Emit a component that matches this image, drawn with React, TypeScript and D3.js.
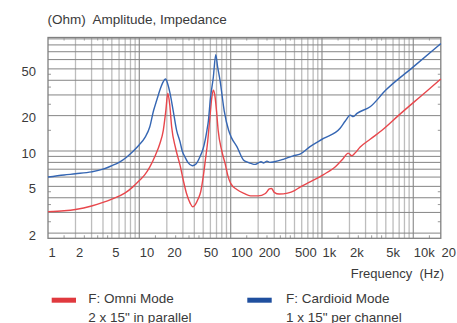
import React from "react";
import * as d3 from "d3";

const omniFreq = [1, 1.5, 2, 3, 4, 5, 7, 8.5, 10, 11.5, 13, 15, 16.8, 18.3, 19.5, 20.5, 21.5, 22.6, 25, 28, 30.5, 33, 36, 38.5, 41, 44, 47, 50, 53, 56, 59.5, 62, 64.5, 67, 70, 73, 80, 87, 93, 100, 117, 140, 165, 200, 240, 265, 280, 300, 340, 420, 500, 580, 740, 1040, 1440, 1700, 1940, 2120, 2300, 2620, 3370, 4540, 7000, 10000, 14000, 20000];
const omniOhm = [3.05, 3.1, 3.18, 3.4, 3.65, 3.9, 4.4, 4.95, 5.6, 6.3, 7.3, 9.2, 11.6, 15, 22, 31, 25, 16, 10.5, 7.5, 5.5, 4.3, 3.6, 3.35, 3.5, 3.9, 4.5, 6, 8.5, 12, 20, 28, 33, 30, 22, 15, 10, 7.8, 6.2, 5.3, 4.7, 4.35, 4.15, 4.15, 4.35, 4.75, 4.8, 4.45, 4.3, 4.38, 4.6, 4.95, 5.45, 6.3, 7.5, 8.6, 9.6, 9.1, 9.6, 10.8, 12.6, 15, 20.3, 25.8, 32.2, 41];

const cardFreq = [1, 1.5, 2, 3, 4, 5, 6, 7.3, 8.5, 10, 11.5, 13, 14.3, 15.5, 16.8, 18, 19.4, 20.5, 21.7, 23.5, 25.6, 27.9, 29.5, 31.6, 34, 38, 42, 46, 50, 55, 57, 60, 64.5, 68.7, 72, 76.5, 85, 95, 102, 117, 138, 155, 170, 185, 200, 215, 230, 250, 270, 300, 377, 484, 575, 740, 1040, 1580, 1800, 2040, 2200, 2420, 3370, 5000, 10000, 20000];
const cardOhm = [6.0, 6.25, 6.4, 6.65, 7.0, 7.5, 8.0, 8.9, 9.9, 11.3, 13, 16, 22, 27, 33, 38, 41, 37, 31, 22, 15, 12, 10, 8.9, 8.0, 7.5, 7.8, 8.9, 10.5, 15, 18, 28, 42, 66, 52, 40, 22, 15, 13, 10.9, 8.4, 8.0, 7.8, 7.7, 7.9, 8.1, 7.9, 8.2, 8.0, 8.1, 8.5, 9.1, 9.4, 10.9, 12.8, 15.6, 18, 20.2, 19.6, 20.9, 23.8, 33, 52, 82];

const xTickValues = [1, 2, 5, 10, 20, 50, 100, 200, 500, 1000, 2000, 5000, 10000, 20000];
const xTickLabels = ["1", "2", "5", "10", "20", "50", "100", "200", "500", "1k", "2k", "5k", "10k", "20"];
const yTickValues = [2, 5, 10, 20, 50];
const yTickLabels = ["2", "5", "10", "20", "50"];

const titleText = "(Ohm)  Amplitude, Impedance";
const xTitleText = "Frequency  (Hz)";
const seriesNames = ["F: Omni Mode", "F: Cardioid Mode"];
const seriesSub = ["2 x 15\" in parallel", "1 x 15\" per channel"];

const W = 457;
const H = 323;
const left = 48;
const right = 440.8;
const top = 37.5;
const bottom = 238.3;

const FONT = "'Liberation Sans', Arial, Helvetica, sans-serif";

export default function App() {
  const x = d3.scaleLog().domain([1, 20000]).range([left, right]);
  const y = d3.scaleLog().domain([1.807, 92.5]).range([bottom, top]);

  const decades = [1, 10, 100, 1000, 10000];
  const vGrid: { v: number; major: boolean }[] = [];
  decades.forEach((d) => {
    d3.range(1, 10).forEach((m) => {
      const v = d * m;
      if (v > 1 && v < 20000) vGrid.push({ v, major: m === 1 });
    });
  });
  const xMinor: number[] = [];
  decades.forEach((d) => [1.5, 2.5, 3.5, 4.5].forEach((m) => { if (d * m < 20000) xMinor.push(d * m); }));

  const hGrid: number[] = [];
  [1, 10].forEach((d) => d3.range(1, 10).forEach((m) => { const v = d * m; if (v >= 2 && v <= 90) hGrid.push(v); }));
  const yMinor = [2.5, 3.5, 4.5, 15, 25, 35, 45];

  const line = d3
    .line<[number, number]>()
    .x((d) => x(d[0]))
    .y((d) => y(d[1]))
    .curve(d3.curveMonotoneX);

  const omni = omniFreq.map((f, i) => [f, omniOhm[i]] as [number, number]);
  const card = cardFreq.map((f, i) => [f, cardOhm[i]] as [number, number]);

  const textColor = "#3a3a3a";
  const red = "#e8474c";
  const blue = "#3566b3";
  const pre = { whiteSpace: "pre" as const };

  return (
    <svg width={W} height={H} style={{ position: "absolute", left: 0, top: 0, background: "#fff" }} fontFamily={FONT}>
      <text x={47.5} y={24} fontSize={13.5} fill={textColor} style={pre} xmlSpace="preserve">{titleText}</text>

      {vGrid.map((g, i) => (
        <line key={"v" + i} x1={x(g.v)} x2={x(g.v)} y1={top} y2={bottom} stroke={g.major ? "#9a9a9a" : "#bdbdbd"} strokeWidth={1.3} />
      ))}
      {hGrid.map((v, i) => (
        <line key={"h" + i} x1={left} x2={right} y1={y(v)} y2={y(v)} stroke="#858585" strokeWidth={1} />
      ))}
      {xMinor.map((v, i) => (
        <g key={"xm" + i}>
          <line x1={x(v)} x2={x(v)} y1={top} y2={top + 3} stroke="#999" strokeWidth={1} />
          <line x1={x(v)} x2={x(v)} y1={bottom} y2={bottom - 3} stroke="#999" strokeWidth={1} />
        </g>
      ))}
      {yMinor.map((v, i) => (
        <g key={"ym" + i}>
          <line x1={left} x2={left + 3} y1={y(v)} y2={y(v)} stroke="#999" strokeWidth={1} />
          <line x1={right} x2={right - 3} y1={y(v)} y2={y(v)} stroke="#999" strokeWidth={1} />
        </g>
      ))}
      <rect x={left} y={top} width={right - left} height={bottom - top} fill="none" stroke="#808080" strokeWidth={1.3} />

      <path d={line(omni) || ""} fill="none" stroke={red} strokeWidth={1.4} strokeLinejoin="round" />
      <path d={line(card) || ""} fill="none" stroke={blue} strokeWidth={1.4} strokeLinejoin="round" />

      {yTickValues.map((v, i) => (
        <text key={"yl" + i} x={36} y={y(v) + 6.8} fontSize={13} textAnchor="end" fill={textColor}>{yTickLabels[i]}</text>
      ))}
      {xTickValues.map((v, i) => {
        const last = i === xTickValues.length - 1;
        return (
          <text key={"xl" + i} x={last ? W - 1 : x(v) + 0.5} y={256.5} fontSize={13} textAnchor={last ? "end" : "start"} fill={textColor}>{xTickLabels[i]}</text>
        );
      })}
      <text x={444} y={278} fontSize={13} textAnchor="end" fill={textColor} style={pre} xmlSpace="preserve">{xTitleText}</text>

      <rect x={51.7} y={297.7} width={24.3} height={5} fill="#e0393e" />
      <text x={88.3} y={303} fontSize={13.5} fill={textColor}>{seriesNames[0]}</text>
      <text x={88.3} y={321.5} fontSize={13.5} fill={textColor}>{seriesSub[0]}</text>

      <rect x={247.3} y={297.7} width={24.4} height={5} fill="#1f4f9e" />
      <text x={286} y={303} fontSize={13.5} fill={textColor}>{seriesNames[1]}</text>
      <text x={286} y={321.5} fontSize={13.5} fill={textColor}>{seriesSub[1]}</text>
    </svg>
  );
}
